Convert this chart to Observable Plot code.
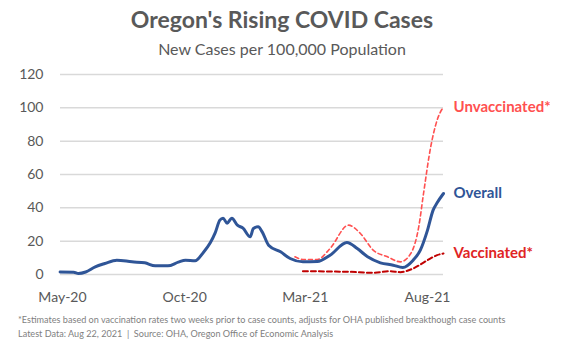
<!DOCTYPE html>
<html>
<head>
<meta charset="utf-8">
<script src="https://cdn.jsdelivr.net/npm/d3@7"></script>
<script src="https://cdn.jsdelivr.net/npm/@observablehq/plot@0.6"></script>
<style>
  html, body { margin: 0; padding: 0; background: #fff; }
  #wrap { position: relative; width: 564px; height: 343px; font-family: Lato, sans-serif; color: #595959; overflow: hidden; }
  #title { position: absolute; left: 0; width: 564px; top: 5px; text-align: center; font-size: 23px; font-weight: 700; line-height: 28px; }
  #subtitle { position: absolute; left: 0; width: 564px; top: 39px; text-align: center; font-size: 16px; line-height: 20px; }
  #chart { position: absolute; left: 0; top: 60px; }
  .note { position: absolute; left: 18px; font-size: 9.1px; line-height: 11px; color: #7f7f7f; white-space: nowrap; }
</style>
</head>
<body>
<div id="wrap">
  <div id="title">Oregon's Rising COVID Cases</div>
  <div id="subtitle">New Cases per 100,000 Population</div>
  <div id="chart"></div>
  <div class="note" style="top:314px">*Estimates based on vaccination rates two weeks prior to case counts, adjusts for OHA published breakthough case counts</div>
  <div class="note" style="top:328px">Latest Data: Aug 22, 2021 &nbsp;|&nbsp; Source: OHA, Oregon Office of Economic Analysis</div>
</div>
<script>
// New cases per 100,000, all Oregonians
const overallDates = ["2020-04-28","2020-05-15","2020-05-21","2020-05-30","2020-06-11","2020-06-23","2020-07-08","2020-07-27","2020-08-12","2020-08-25","2020-09-10","2020-09-23","2020-10-02","2020-10-14","2020-10-24","2020-11-02","2020-11-08","2020-11-14","2020-11-18","2020-11-23","2020-11-29","2020-12-06","2020-12-13","2020-12-22","2020-12-26","2021-01-01","2021-01-06","2021-01-14","2021-01-29","2021-02-10","2021-02-26","2021-03-16","2021-04-01","2021-04-22","2021-05-05","2021-05-18","2021-06-03","2021-06-19","2021-07-01","2021-07-14","2021-07-23","2021-08-01","2021-08-08","2021-08-13","2021-08-21"];
const overallValues = [1.5,1.4,0.6,1.5,4.6,6.6,8.6,7.6,7.0,5.2,5.2,7.4,8.6,8.2,13,19,24.8,32.6,33.8,30.8,33.8,29.6,27.8,22.6,27.6,28.6,25.6,17.6,13.6,9.6,7.6,7.8,11.6,19.2,15.6,10.6,7,5.6,4.2,8.6,14.6,26.6,38.6,43,48.6];

// Estimated rate among the unvaccinated
const unvaxDates = ["2021-02-16","2021-02-26","2021-03-16","2021-04-01","2021-04-24","2021-05-09","2021-05-25","2021-06-12","2021-06-28","2021-07-11","2021-07-21","2021-07-27","2021-08-05","2021-08-13","2021-08-21"];
const unvaxValues = [10.6,9,9,15.6,29.6,24.6,14.6,10.6,7.6,12.6,28.6,48.6,76.6,92.6,100.6];

// Estimated rate among the vaccinated
const vaxDates = ["2021-02-26","2021-04-01","2021-04-26","2021-05-25","2021-06-15","2021-06-28","2021-07-14","2021-08-01","2021-08-13","2021-08-21"];
const vaxValues = [2,1.8,1.6,1,2,1.4,3.6,8.6,11.6,12.6];

const seriesNames = ["Unvaccinated*", "Overall", "Vaccinated*"];
const xTickDates = ["2020-05-01","2020-10-01","2021-03-01","2021-08-01"];
const yTicks = [0,20,40,60,80,100,120];

const toRows = (dates, values) => dates.map((d, i) => ({date: new Date(d), value: values[i]}));
const overall = toRows(overallDates, overallValues);
const unvax = toRows(unvaxDates, unvaxValues);
const vax = toRows(vaxDates, vaxValues);

const colors = {unvax: "#ff5050", overall: "#2f5597", vax: "#c00000", vaxLabel: "#e02424"};
const ends = [
  {...unvax[unvax.length - 1], name: seriesNames[0], color: colors.unvax},
  {...overall[overall.length - 1], name: seriesNames[1], color: colors.overall},
  {...vax[vax.length - 1], name: seriesNames[2], color: colors.vaxLabel}
];

const chart = Plot.plot({
  width: 564,
  height: 250,
  marginLeft: 60,
  marginRight: 121,
  marginTop: 14,
  marginBottom: 36,
  style: {fontFamily: "Lato, sans-serif", fontSize: "13px", color: "#595959", background: "transparent"},
  x: {type: "utc", domain: [new Date("2020-04-28T12:00Z"), new Date("2021-08-21")]},
  y: {domain: [0, 120]},
  marks: [
    Plot.gridY(yTicks, {stroke: "#d9d9d9", strokeOpacity: 1, strokeWidth: 1.5}),
    Plot.axisY({ticks: yTicks, tickSize: 0, tickPadding: 17, label: null, fontSize: 14}),
    Plot.axisX({ticks: xTickDates.map(d => new Date(d)), tickFormat: d3.utcFormat("%b-%y"), tickSize: 0, tickPadding: 18, label: null, fontSize: 14}),
    Plot.line(vax, {x: "date", y: "value", stroke: colors.vax, strokeWidth: 2, strokeDasharray: "5,3", curve: "monotone-x"}),
    Plot.line(unvax, {x: "date", y: "value", stroke: colors.unvax, strokeWidth: 1.6, strokeDasharray: "4,3", curve: "monotone-x"}),
    Plot.line(overall, {x: "date", y: "value", stroke: colors.overall, strokeWidth: 3, curve: "monotone-x"}),
    Plot.text(ends, {x: "date", y: "value", text: "name", fill: "color", dx: 10, textAnchor: "start", fontWeight: "bold", fontSize: 15})
  ]
});
document.getElementById("chart").appendChild(chart);
</script>
</body>
</html>
